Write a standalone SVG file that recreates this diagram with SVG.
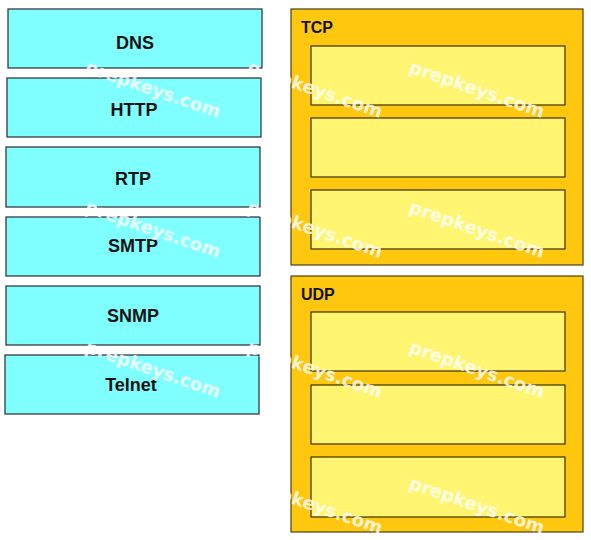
<svg xmlns="http://www.w3.org/2000/svg" width="591" height="540" viewBox="0 0 591 540">
<style>
.proto rect{fill:#7fffff;stroke:#2a2a2a;stroke-width:1.2}
.proto text{font-family:"Liberation Sans",Arial,sans-serif;font-weight:bold;font-size:18px;fill:#111;text-anchor:middle}
.group{fill:#ffc80f;stroke:#4a3f1a;stroke-width:1.2}
.slot{fill:#fff570;stroke:#3a3000;stroke-width:1.2}
.glabel{font-family:"Liberation Sans",Arial,sans-serif;font-weight:bold;font-size:16px;fill:#111}
.wm{font-family:"DejaVu Sans","Liberation Sans",sans-serif;font-weight:bold;font-size:18px;fill:#ffffff;fill-opacity:0.82}
</style>
<rect width="591" height="540" fill="#ffffff"/>
<g id="dns" class="proto"><rect x="8" y="9" width="254" height="59"/><text x="135" y="49">DNS</text></g>
<g id="http" class="proto"><rect x="7" y="78" width="254" height="59"/><text x="134" y="116">HTTP</text></g>
<g id="rtp" class="proto"><rect x="6" y="147" width="254" height="60"/><text x="133" y="185">RTP</text></g>
<g id="smtp" class="proto"><rect x="6" y="217" width="254" height="59"/><text x="133" y="252">SMTP</text></g>
<g id="snmp" class="proto"><rect x="6" y="286" width="254" height="59"/><text x="133" y="322">SNMP</text></g>
<g id="telnet" class="proto"><rect x="5" y="355" width="254" height="59"/><text x="131" y="391">Telnet</text></g>
<g id="tcp">
<rect class="group" x="291" y="9" width="292" height="256"/>
<text class="glabel" x="301" y="33">TCP</text>
<rect class="slot" x="311" y="46" width="254" height="59"/>
<rect class="slot" x="311" y="118" width="254" height="59"/>
<rect class="slot" x="311" y="190" width="254" height="59"/>
</g>
<g id="udp">
<rect class="group" x="291" y="276" width="292" height="256"/>
<text class="glabel" x="301" y="300">UDP</text>
<rect class="slot" x="311" y="312" width="254" height="59"/>
<rect class="slot" x="311" y="385" width="254" height="59"/>
<rect class="slot" x="311" y="457" width="254" height="60"/>
</g>
<g id="connectors"/>
<g id="watermark" class="wm">
<text transform="translate(84,72) rotate(19)">prepkeys.com</text>
<text transform="translate(246,72) rotate(19)">prepkeys.com</text>
<text transform="translate(408,72) rotate(19)">prepkeys.com</text>
<text transform="translate(84,212) rotate(19)">prepkeys.com</text>
<text transform="translate(246,212) rotate(19)">prepkeys.com</text>
<text transform="translate(408,212) rotate(19)">prepkeys.com</text>
<text transform="translate(84,352) rotate(19)">prepkeys.com</text>
<text transform="translate(246,352) rotate(19)">prepkeys.com</text>
<text transform="translate(408,352) rotate(19)">prepkeys.com</text>
<text transform="translate(246,488) rotate(19)">prepkeys.com</text>
<text transform="translate(408,488) rotate(19)">prepkeys.com</text>
</g>
</svg>
